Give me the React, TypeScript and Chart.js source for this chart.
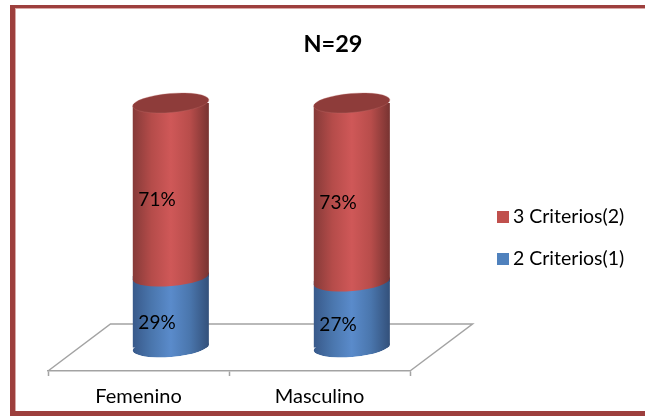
import React, { useEffect, useRef } from "react";
import { Chart, registerables } from "chart.js";

Chart.register(...registerables);

const FONT = "Lato, 'Open Sans', sans-serif";

const categories = ["Femenino", "Masculino"];
const twoCriteria = [29, 27];
const threeCriteria = [71, 73];
const seriesNames = ["2 Criterios(1)", "3 Criterios(2)"];
const chartTitle = "N=29";

const RED = "#c0504d";
const BLUE = "#4f81bd";
const RED_STOPS = ["#853a38", "#b54c4a", "#cf5858", "#b84d4b", "#773331"];
const BLUE_STOPS = ["#38598a", "#4a76ad", "#5a8bcb", "#4a76ad", "#33507a"];
const CAP_RED = "#8e3c3a";

const BAR_SHARE = 0.4227;
// The floor recedes by this much; cylinders stand about halfway across it.
const FLOOR_DEPTH_X = 62.5;
const FLOOR_DEPTH_Y = 47;
const COLUMN_SHIFT_X = 32.25;
const COLUMN_SHIFT_Y = -23.5;
const CAP_RADIUS_Y = 9.5;
const CAP_TILT = -0.085;

function sideGradient(ctx: CanvasRenderingContext2D, cx: number, half: number, stops: string[]) {
  const g = ctx.createLinearGradient(cx - half, 0, cx + half, 0);
  stops.forEach((c, i) => g.addColorStop(i / (stops.length - 1), c));
  return g;
}

function scriptedFill(stops: string[], solid: string) {
  return (c: any) => {
    const x = c.chart.scales.x;
    if (!x || c.dataIndex === undefined) return solid;
    const half = (x.width / categories.length) * BAR_SHARE * 0.5;
    return sideGradient(c.chart.ctx, x.getPixelForValue(c.dataIndex), half, stops);
  };
}

function drawCap(ctx: CanvasRenderingContext2D, cx: number, cy: number, half: number, fill: any) {
  ctx.beginPath();
  ctx.ellipse(cx, cy, half, CAP_RADIUS_Y, CAP_TILT, 0, Math.PI * 2);
  ctx.fillStyle = fill;
  ctx.fill();
}

function fillTriangle(ctx: CanvasRenderingContext2D, pts: number[][], fill: any) {
  ctx.beginPath();
  ctx.moveTo(pts[0][0], pts[0][1]);
  ctx.lineTo(pts[1][0], pts[1][1]);
  ctx.lineTo(pts[2][0], pts[2][1]);
  ctx.closePath();
  ctx.fillStyle = fill;
  ctx.fill();
}

const framePlugin = {
  id: "frame",
  beforeDraw(chart: any) {
    const { ctx, width, height } = chart;
    ctx.save();
    ctx.fillStyle = "#ffffff";
    ctx.fillRect(0, 0, width, height);
    ctx.fillStyle = "#d9a8a6";
    ctx.fillRect(15, 8, width - 15, 1);
    ctx.fillRect(15, 8, 1, 403);
    ctx.fillStyle = "#9d3f3d";
    ctx.fillRect(10, 5, width - 10, 3);
    ctx.fillRect(10, 5, 5, 411);
    ctx.fillRect(10, 411, width - 10, 5);
    ctx.restore();
  },
};

const placementPlugin = {
  id: "placement",
  afterLayout(chart: any) {
    const legend = chart.legend;
    const pad = legend.options.labels.padding;
    legend.left = 502.75 - pad;
    legend.right = chart.width;
    legend.top = 207.25 - pad;
    legend.bottom = chart.height;
    chart.titleBlock.left = 0;
    chart.titleBlock.right = 666;
  },
};

const cylinderPlugin = {
  id: "cylinders",
  beforeDatasetsDraw(chart: any) {
    const { ctx, chartArea } = chart;
    const { left, right, bottom } = chartArea;
    ctx.save();
    ctx.strokeStyle = "#a3a3a3";
    ctx.lineWidth = 1.5;
    ctx.beginPath();
    ctx.moveTo(left, bottom);
    ctx.lineTo(left + FLOOR_DEPTH_X, bottom - FLOOR_DEPTH_Y);
    ctx.lineTo(right + FLOOR_DEPTH_X, bottom - FLOOR_DEPTH_Y);
    ctx.lineTo(right, bottom);
    ctx.stroke();
    ctx.restore();

    ctx.save();
    ctx.translate(COLUMN_SHIFT_X, COLUMN_SHIFT_Y);

    // Trim the square bar corners to the outline of each cylinder.
    const lower = chart.getDatasetMeta(0).data;
    const upper = chart.getDatasetMeta(1).data;
    ctx.save();
    ctx.beginPath();
    lower.forEach((bar: any, i: number) => {
      const half = bar.width / 2;
      ctx.moveTo(bar.x - half, upper[i].y);
      ctx.ellipse(bar.x, upper[i].y, half, CAP_RADIUS_Y, CAP_TILT, Math.PI, Math.PI * 2);
      ctx.ellipse(bar.x, bar.base, half, CAP_RADIUS_Y, CAP_TILT, 0, Math.PI);
      ctx.closePath();
    });
    ctx.clip();
  },
  afterDatasetsDraw(chart: any) {
    const { ctx } = chart;
    const lower = chart.getDatasetMeta(0).data;
    const upper = chart.getDatasetMeta(1).data;
    const rise = Math.tan(-CAP_TILT);

    lower.forEach((bar: any, i: number) => {
      const half = bar.width / 2;
      const blueFill = sideGradient(ctx, bar.x, half, BLUE_STOPS);
      const redFill = sideGradient(ctx, bar.x, half, RED_STOPS);
      const l = bar.x - half;
      const r = bar.x + half;
      const y = bar.y;
      // The seam between the two colours follows the tilt of the cap.
      fillTriangle(ctx, [[bar.x, y], [r, y - half * rise], [r, y + 0.5]], blueFill);
      fillTriangle(ctx, [[l, y - 0.5], [bar.x, y], [l, y + half * rise]], redFill);
      drawCap(ctx, bar.x, bar.base, half, blueFill);
      drawCap(ctx, bar.x, y, half, redFill);
    });
    ctx.restore();

    upper.forEach((bar: any) => {
      const half = bar.width / 2;
      drawCap(ctx, bar.x, bar.y, half, CAP_RED);
      ctx.strokeStyle = "rgba(190,110,108,0.45)";
      ctx.lineWidth = 0.7;
      ctx.stroke();
    });
    ctx.restore();

    ctx.save();
    ctx.fillStyle = "#000000";
    ctx.font = `19px ${FONT}`;
    ctx.textAlign = "center";
    ctx.textBaseline = "middle";
    chart.data.datasets.forEach((ds: any, d: number) => {
      chart.getDatasetMeta(d).data.forEach((bar: any, i: number) => {
        const cy = (bar.y + bar.base) / 2;
        ctx.fillText(`${ds.data[i]}%`, bar.x + 18.5, cy - 13);
      });
    });
    ctx.restore();
  },
};

export default function App() {
  const ref = useRef<HTMLCanvasElement>(null);

  useEffect(() => {
    const chart = new Chart(ref.current as HTMLCanvasElement, {
      type: "bar",
      data: {
        labels: categories,
        datasets: [
          {
            label: seriesNames[0],
            data: twoCriteria,
            backgroundColor: scriptedFill(BLUE_STOPS, BLUE),
            barPercentage: 1,
            categoryPercentage: BAR_SHARE,
            clip: false,
          },
          {
            label: seriesNames[1],
            data: threeCriteria,
            backgroundColor: scriptedFill(RED_STOPS, RED),
            barPercentage: 1,
            categoryPercentage: BAR_SHARE,
            clip: false,
          },
        ] as any,
      },
      options: {
        animation: false,
        responsive: false,
        layout: { padding: { left: 48, right: 135, top: 0, bottom: 0.6 } },
        scales: {
          x: {
            stacked: true,
            grid: {
              drawOnChartArea: false,
              drawTicks: true,
              tickLength: 5,
              tickColor: "#a3a3a3",
              tickWidth: 1.5,
            },
            border: { display: true, color: "#a3a3a3", width: 1.5 },
            ticks: {
              color: "#000000",
              padding: 8.2,
              maxRotation: 0,
              font: { family: FONT, size: 20 },
            },
          },
          y: { stacked: true, display: false, min: 0, max: 100 },
        },
        plugins: {
          title: {
            display: true,
            text: chartTitle,
            color: "#000000",
            font: { family: FONT, size: 23.5, weight: "bold" },
            padding: { top: 30, bottom: 68.3 },
          },
          legend: {
            position: "right",
            align: "start",
            reverse: true,
            maxWidth: 100,
            labels: {
              color: "#000000",
              font: { family: FONT, size: 19.5 },
              boxWidth: 0.5,
              boxHeight: 12,
              usePointStyle: true,
              padding: 22.5,
              generateLabels: () =>
                seriesNames.map((text, i) => ({
                  text,
                  fillStyle: i === 0 ? BLUE : RED,
                  strokeStyle: i === 0 ? BLUE : RED,
                  lineWidth: 0,
                  pointStyle: "rect",
                  datasetIndex: i,
                  hidden: false,
                })),
            },
          },
          tooltip: { enabled: false },
        },
      } as any,
      plugins: [framePlugin, placementPlugin, cylinderPlugin] as any,
    });
    return () => chart.destroy();
  }, []);

  return (
    <div style={{ position: "fixed", left: 0, top: 0, width: 645, height: 417 }}>
      <canvas ref={ref} width={645} height={417} style={{ display: "block" }} />
    </div>
  );
}
